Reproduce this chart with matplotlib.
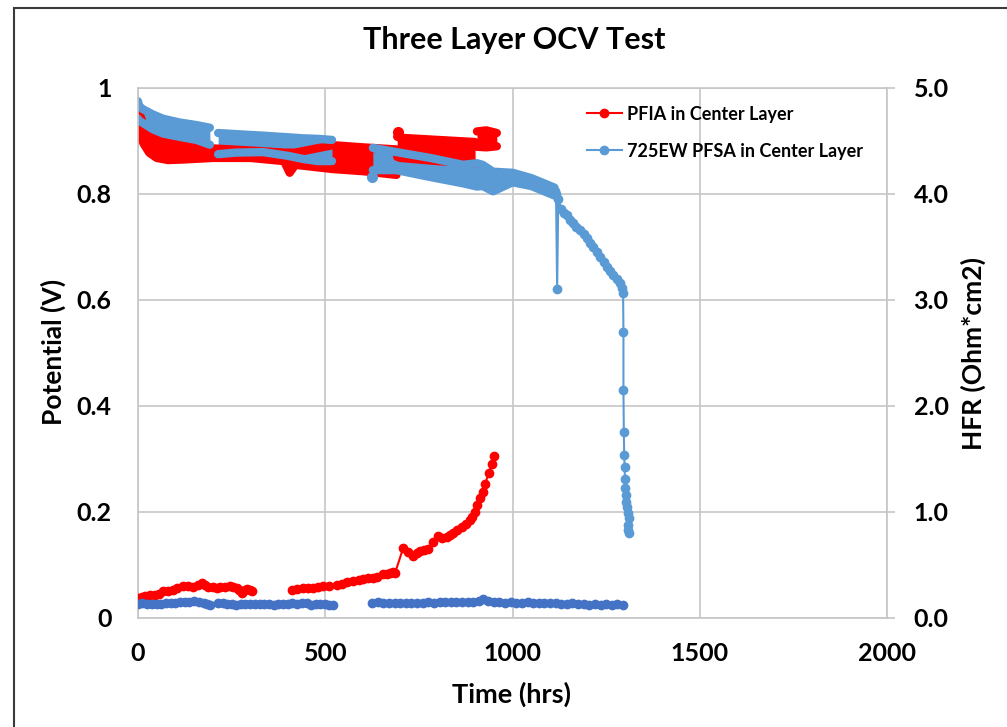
import matplotlib
matplotlib.use("Agg")
import matplotlib.pyplot as plt
from matplotlib.patches import Rectangle
from matplotlib.lines import Line2D

plt.rcParams['font.family'] = ['Lato', 'DejaVu Sans']

RED = '#FF0000'
LBLUE = '#5B9BD5'
DBLUE = '#4472C4'

# ---- PFIA in Center Layer: potential (V), dense bands as lower/upper envelopes
pfia_v1_t = [0, 5, 15, 30, 50, 80, 120, 200, 300, 390, 405, 420, 520, 600, 690]
pfia_v1_lo = [0.925, 0.912, 0.895, 0.878, 0.868, 0.864, 0.865, 0.868, 0.868, 0.862, 0.840, 0.855, 0.847, 0.843, 0.836]
pfia_v1_hi = [0.955, 0.950, 0.930, 0.915, 0.905, 0.897, 0.892, 0.886, 0.882, 0.878, 0.878, 0.878, 0.892, 0.888, 0.884]

pfia_v2_t = [692, 700, 800, 900]
pfia_v2_lo = [0.870, 0.868, 0.862, 0.858]
pfia_v2_hi = [0.908, 0.906, 0.902, 0.898]

pfia_v3_t = [905, 930, 958]
pfia_v3_lo = [0.889, 0.888, 0.890]
pfia_v3_hi = [0.918, 0.920, 0.915]

pfia_v_out_t = [694]
pfia_v_out = [0.916]

# ---- 725EW PFSA in Center Layer: potential (V)
pfsa_v1_t = [0, 3, 13, 40, 67, 110, 156, 192]
pfsa_v1_lo = [0.942, 0.938, 0.934, 0.922, 0.914, 0.908, 0.902, 0.893]
pfsa_v1_hi = [0.975, 0.966, 0.960, 0.950, 0.942, 0.935, 0.930, 0.925]

pfsa_v2_t = [214, 260, 334, 400, 441, 480, 518]
pfsa_v2_lo = [0.875, 0.878, 0.879, 0.872, 0.866, 0.862, 0.862]
pfsa_v2_hi = [0.915, 0.913, 0.910, 0.907, 0.905, 0.904, 0.902]

pfsa_v3_t = [627, 690, 780, 868, 905, 920, 948, 1000, 1050, 1112]
pfsa_v3_lo = [0.845, 0.845, 0.832, 0.820, 0.814, 0.815, 0.805, 0.822, 0.815, 0.797]
pfsa_v3_hi = [0.887, 0.879, 0.868, 0.855, 0.858, 0.855, 0.842, 0.840, 0.830, 0.812]

pfsa_v_out_t = [625]
pfsa_v_out = [0.832]

pfsa_v4_t = [1112, 1116, 1119, 1122, 1130, 1138, 1145, 1153, 1162, 1170, 1180, 1190, 1199, 1207, 1215,
             1225, 1234, 1243, 1252, 1260, 1268, 1278, 1287, 1292, 1295,
             1296, 1296, 1297, 1298, 1299, 1300, 1301, 1302, 1304, 1305, 1307, 1310, 1308, 1309, 1310]
pfsa_v4 = [0.805, 0.800, 0.620, 0.790, 0.772, 0.765, 0.760, 0.750, 0.745, 0.738, 0.732, 0.725, 0.717, 0.708, 0.700,
           0.690, 0.681, 0.672, 0.662, 0.655, 0.647, 0.640, 0.632, 0.622, 0.613,
           0.540, 0.430, 0.351, 0.308, 0.285, 0.262, 0.245, 0.232, 0.219, 0.209, 0.198, 0.189, 0.175, 0.166, 0.160]

# ---- HFR (Ohm*cm2), right axis
pfia_hfr1_t = [0, 10, 20, 32, 45, 55, 67, 80, 93, 105, 120, 133, 147, 160, 171, 180, 187, 200, 210, 219,
               232, 246, 255, 264, 270, 278, 285, 291, 298, 304]
pfia_hfr1 = [0.19, 0.20, 0.21, 0.22, 0.22, 0.23, 0.25, 0.25, 0.26, 0.28, 0.30, 0.30, 0.29, 0.31, 0.33, 0.31, 0.29,
             0.29, 0.28, 0.29, 0.29, 0.30, 0.29, 0.28, 0.26, 0.24, 0.26, 0.27, 0.26, 0.25]
pfia_hfr2_t = [411, 425, 441, 455, 467, 480, 494, 510, 531, 545, 558, 575, 590, 601, 615, 628, 638, 654, 665, 673,
               680, 686, 708, 720, 734, 745, 753, 764, 774, 788, 801, 812, 825, 833, 841, 853, 865, 876, 886, 893,
               900, 905, 913, 920, 926, 937, 944, 951]
pfia_hfr2 = [0.26, 0.27, 0.28, 0.28, 0.28, 0.29, 0.30, 0.30, 0.31, 0.32, 0.34, 0.35, 0.36, 0.37, 0.38, 0.38, 0.39,
             0.41, 0.41, 0.42, 0.43, 0.42, 0.66, 0.62, 0.58, 0.61, 0.63, 0.64, 0.65, 0.72, 0.77, 0.75, 0.76, 0.78,
             0.80, 0.83, 0.86, 0.89, 0.92, 0.95, 1.00, 1.07, 1.13, 1.19, 1.26, 1.37, 1.45, 1.53]

pfsa_hfr1_t = [0, 12, 25, 37, 50, 62, 75, 87, 100, 112, 125, 137, 150, 162, 175, 185, 192]
pfsa_hfr1 = [0.13, 0.14, 0.13, 0.13, 0.13, 0.13, 0.14, 0.14, 0.14, 0.15, 0.15, 0.15, 0.16, 0.15, 0.14, 0.13, 0.12]
pfsa_hfr2_t = [214, 226, 238, 250, 262, 275, 287, 300, 312, 325, 337, 350, 362, 375, 387, 400, 412, 425, 437, 450,
               462, 475, 487, 500, 510, 520]
pfsa_hfr2 = [0.14, 0.14, 0.13, 0.13, 0.12, 0.13, 0.13, 0.13, 0.13, 0.13, 0.13, 0.13, 0.12, 0.13, 0.13, 0.13, 0.14,
             0.13, 0.14, 0.14, 0.12, 0.13, 0.13, 0.13, 0.12, 0.12]
pfsa_hfr3_t = [625, 640, 655, 670, 685, 700, 715, 730, 745, 760, 775, 790, 805, 820, 835, 850, 865, 880, 895, 910,
               921, 935, 950, 965, 980, 995, 1010, 1025, 1040, 1055, 1070, 1085, 1100, 1115, 1130, 1145, 1160, 1175,
               1190, 1205, 1220, 1235, 1250, 1265, 1280, 1295]
pfsa_hfr3 = [0.14, 0.15, 0.14, 0.14, 0.14, 0.14, 0.14, 0.14, 0.14, 0.14, 0.15, 0.14, 0.15, 0.15, 0.15, 0.15, 0.15,
             0.15, 0.15, 0.16, 0.18, 0.16, 0.15, 0.15, 0.14, 0.15, 0.14, 0.14, 0.15, 0.14, 0.14, 0.14, 0.14, 0.14,
             0.13, 0.13, 0.14, 0.13, 0.13, 0.12, 0.13, 0.12, 0.13, 0.12, 0.13, 0.12]


def band(axis, t, lo, hi, color, lw=6):
    axis.fill_between(t, lo, hi, color=color, lw=0)
    axis.plot(t, lo, color=color, lw=lw, solid_capstyle='round', solid_joinstyle='round')
    axis.plot(t, hi, color=color, lw=lw, solid_capstyle='round', solid_joinstyle='round')


fig = plt.figure(figsize=(10.07, 7.27), dpi=100)
ax = fig.add_axes([0.137, 0.150, 0.744, 0.729])
ax2 = ax.twinx()

mk = dict(marker='o', markersize=6, lw=1.5)

band(ax, pfia_v1_t, pfia_v1_lo, pfia_v1_hi, RED)
band(ax, pfia_v2_t, pfia_v2_lo, pfia_v2_hi, RED)
band(ax, pfia_v3_t, pfia_v3_lo, pfia_v3_hi, RED)
ax.plot(pfia_v_out_t, pfia_v_out, color=RED, ls='none', marker='o', markersize=7)

band(ax, pfsa_v1_t, pfsa_v1_lo, pfsa_v1_hi, LBLUE)
band(ax, pfsa_v2_t, pfsa_v2_lo, pfsa_v2_hi, LBLUE)
band(ax, pfsa_v3_t, pfsa_v3_lo, pfsa_v3_hi, LBLUE)
ax.plot(pfsa_v_out_t, pfsa_v_out, color=LBLUE, ls='none', marker='o', markersize=7)
ax.plot(pfsa_v4_t, pfsa_v4, color=LBLUE, **mk)

ax2.plot(pfia_hfr1_t, pfia_hfr1, color=RED, **mk)
ax2.plot(pfia_hfr2_t, pfia_hfr2, color=RED, **mk)
ax2.plot(pfsa_hfr1_t, pfsa_hfr1, color=DBLUE, **mk)
ax2.plot(pfsa_hfr2_t, pfsa_hfr2, color=DBLUE, **mk)
ax2.plot(pfsa_hfr3_t, pfsa_hfr3, color=DBLUE, **mk)

ax.set_xlim(0, 2000)
ax.set_ylim(0, 1)
ax2.set_ylim(0, 5)
ax.set_xticks([0, 500, 1000, 1500, 2000])
ax.set_yticks([0, 0.2, 0.4, 0.6, 0.8, 1.0])
ax.set_yticklabels(['0', '0.2', '0.4', '0.6', '0.8', '1'])
ax2.set_yticks([0, 1, 2, 3, 4, 5])
ax2.set_yticklabels(['0.0', '1.0', '2.0', '3.0', '4.0', '5.0'])

ax.grid(color='#c6c6c6', lw=1.2)
ax.set_axisbelow(True)
for s in ax.spines.values():
    s.set_color('#c6c6c6')
    s.set_linewidth(1.2)
for s in ax2.spines.values():
    s.set_visible(False)

ax.tick_params(axis='both', length=0, labelsize=18)
ax.tick_params(axis='x', pad=17)
ax.tick_params(axis='y', pad=19)
ax2.tick_params(axis='y', length=6, width=1.2, color='#c6c6c6', labelsize=18, pad=13)
for lab in ax.get_xticklabels() + ax.get_yticklabels() + ax2.get_yticklabels():
    lab.set_fontweight('bold')

fig.text(0.511, 1 - 40 / 727, 'Three Layer OCV Test', ha='center', va='center',
         fontsize=22, fontweight='bold')
fig.text(53 / 1007, 1 - 352 / 727, 'Potential (V)', ha='center', va='center',
         rotation=90, fontsize=19, fontweight='bold')
fig.text(973 / 1007, 1 - 353 / 727, 'HFR (Ohm*cm2)', ha='center', va='center',
         rotation=90, fontsize=19, fontweight='bold')
fig.text(512 / 1007, 1 - 694 / 727, 'Time (hrs)', ha='center', va='center',
         fontsize=19.5, fontweight='bold')

handles = [Line2D([], [], color=RED, marker='o', markersize=6, lw=1.5),
           Line2D([], [], color=LBLUE, marker='o', markersize=6, lw=1.5)]
ax2.legend(handles, ['PFIA in Center Layer', '725EW PFSA in Center Layer'],
           loc='upper left', bbox_to_anchor=(0.578, 0.997), frameon=False,
           prop={'size': 13, 'weight': 'bold'}, handlelength=1.9, labelspacing=1.1, handletextpad=0.3)

fig.add_artist(Rectangle((14 / 1007, -0.05), 1.2, 1 - 8 / 727 + 0.05, transform=fig.transFigure,
                         fill=False, edgecolor='#3a3a3a', lw=1.5))

fig.savefig('out.png', dpi=100)
